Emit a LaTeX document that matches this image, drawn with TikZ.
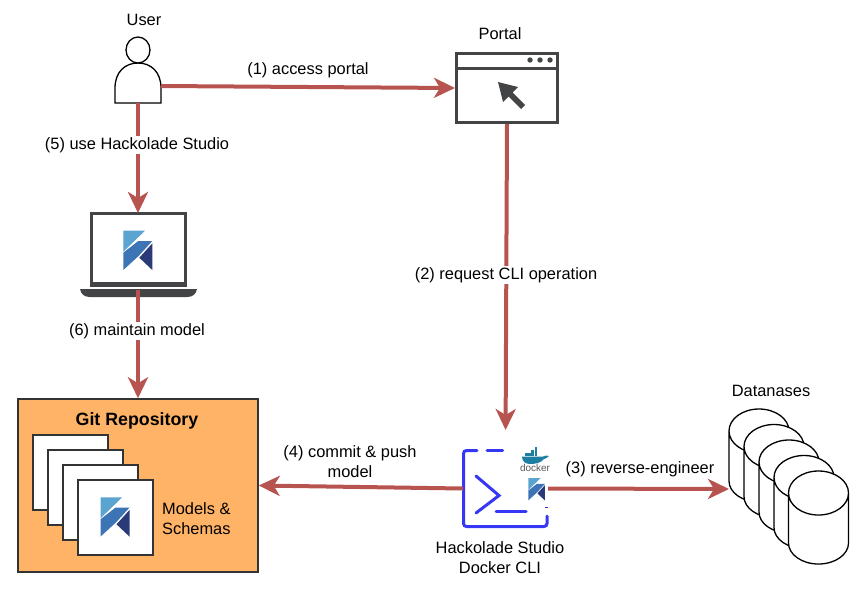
\documentclass[tikz,border=0pt]{standalone}
\usepackage{fontspec}
\setmainfont{Liberation Sans}
\usetikzlibrary{positioning,arrows.meta,calc}
\definecolor{edgered}{HTML}{B85450}
\definecolor{icondark}{HTML}{434445}
\definecolor{repofill}{HTML}{FFB366}
\definecolor{cliblue}{HTML}{3636F5}
\definecolor{logolight}{HTML}{5BA3D0}
\definecolor{logomid}{HTML}{3D74B5}
\definecolor{logodark}{HTML}{2A3A78}
\definecolor{whale}{HTML}{1E7FA3}
\begin{document}
\begin{tikzpicture}[
  x=1pt, y=-1pt,
  lbl/.style={font=\fontsize{16.4}{20.5}\selectfont, align=center, inner sep=1pt, yshift=-1.5pt},
  edgelbl/.style={lbl, fill=white},
  hook/.style={minimum width=#1, inner sep=0pt, outer sep=0pt},
  arrow/.style={-{Stealth[length=21pt,width=20pt,inset=6pt]}, line width=4pt, edgered},
  page/.style={draw=black!80, line width=1.5pt, fill=white, minimum width=75pt, minimum height=75pt, inner sep=0pt},
  pics/klogo/.style={code={
    \fill[logolight] (0,0) -- (21.7,0) -- (0,21) -- cycle;
    \fill[logomid] (15,10.3) -- (29,10.3) -- (15.3,25.3) -- (0,39.3) -- (0,22) -- cycle;
    \fill[logodark] (29,12.7) -- (29,39.3) -- (16,27) -- cycle;
  }},
]
\useasboundingbox (0,0) rectangle (858,595);
% --- user ---
\node[lbl] (tuser) at (144,18.5) {User};
\node[hook=46pt, minimum height=34pt] (user) at (138,86) {};
\draw[line width=1.3pt, fill=white] (115,103) -- (115,88) .. controls (115,72) and (125,63) .. (138,63)
  .. controls (151,63) and (161,72) .. (161,88) -- (161,103) -- cycle;
\draw[line width=1.3pt, fill=white] (138,50) ellipse (12 and 13);
% --- portal ---
\node[draw=icondark, line width=3pt, minimum width=101pt, minimum height=69pt, inner sep=0pt] (portal) at (507,88) {};
\node[lbl] (tportal) at (500,32.5) {Portal};
\draw[icondark, line width=3pt] (portal.north west |- 0,68) -- (portal.north east |- 0,68);
\foreach \dotx in {530,540,550} \fill[icondark] (\dotx,60) circle (2.7);
\fill[icondark] (498,82) -- (518,87) -- (512.5,92.5) -- (525,105) -- (521,109) -- (508.5,96.5) -- (503,102) -- cycle;
% --- laptop ---
\node[draw=icondark, line width=3pt, minimum width=94pt, minimum height=72pt, inner sep=0pt] (screen) at (138,249.5) {};
\fill[icondark] (90,282) rectangle (186,287);
\fill[icondark] (80,289) -- (197,289) .. controls (196,294) and (193,297) .. (187,297)
  -- (90,297) .. controls (84,297) and (81,294) .. (80,289) -- cycle;
\node[hook=96pt, minimum height=77pt] (laptop) at (138,251.5) {};
\pic at (123.3,230.7) {klogo};
% --- git repository ---
\node[draw=black!80, line width=1.5pt, fill=repofill, minimum width=240pt, minimum height=173pt, inner sep=0pt] (repo) at (138,485.5) {};
\node[lbl, font=\fontsize{17.8}{20}\selectfont\bfseries] (trepo) at (137,419.5) {Git Repository};
\node[page] (p1) at (70.5,472.5) {};
\node[page] (p2) at (85.5,487.5) {};
\node[page] (p3) at (100.5,502.5) {};
\node[page] (p4) at (115.5,517.5) {};
\pic at (100.5,497.3) {klogo};
\node[lbl, align=left, anchor=west] (tmodels) at (161,517) {Models \&\\Schemas};
% --- docker cli ---
\node[hook=85pt, minimum height=77pt] (cli) at (505.5,488.5) {};
\draw[cliblue, line width=3pt, rounded corners=3pt, line cap=round] (477,450.5) -- (463.5,450.5) -- (463.5,526.5) -- (547,526.5) -- (547,516);
\draw[cliblue, line width=3pt, line cap=round] (487,450.5) -- (502.5,450.5);
\draw[cliblue, line width=3pt, line cap=round] (476,476) -- (499,495.5) -- (476,513);
\draw[cliblue, line width=3pt, line cap=round] (496,511) -- (526,511);
\draw[cliblue, line width=1pt] (545,507) -- (548,507);
\pic[scale=0.57] at (528.3,478) {klogo};
% whale of the docker mark
\fill[whale] (522,456.5) -- (543,456.5) .. controls (545,455.5) and (547,455) .. (549,456)
  .. controls (547,458) and (545,459) .. (544,459) .. controls (541,463) and (535,464) .. (530,464)
  .. controls (525,464) and (522,461) .. (522,456.5) -- cycle;
\foreach \boxx/\boxy in {525/453,528.2/453,531.4/453,534.6/453,531.4/450,534.6/450,534.6/447}
  \fill[whale] (\boxx,\boxy) rectangle ++(2.7,2.7);
\node[font=\fontsize{10}{10}\selectfont, text=black!65, inner sep=0pt] (tdocker) at (535,468) {docker};
\node[lbl] (tcli) at (500,556) {Hackolade Studio\\Docker CLI};
% --- databases ---
\node[lbl] (tdb) at (771,389.5) {Datanases};
\node[hook=60pt, minimum height=10pt] (dbs) at (759,489) {};
\foreach \dbx/\dby in {759/431,774/446.5,789/462,804/477.5,818.5/493}
  \draw[line width=1.3pt, fill=white] (\dbx-30,\dby) arc (180:360:30 and 22) -- (\dbx+30,\dby+50)
    arc (0:180:30 and 21) -- cycle (\dbx+30,\dby) arc (0:180:30 and 22);
% --- connectors ---
\draw[arrow] (user.east) -- (portal.west);
\draw[arrow, shorten >=20pt] (portal.south) -- (cli.north);
\draw[arrow] (cli.east) -- (dbs.west);
\draw[arrow] (cli.west) -- (repo.east);
\draw[arrow] (user.south) -- (laptop.north);
\draw[arrow] (laptop.south) -- (repo.north);
% --- edge labels ---
\node[lbl] (l1) at (308,68.5) {(1) access portal};
\node[edgelbl] (l2) at (506,273.5) {(2) request CLI operation};
\node[lbl] (l3) at (640,467.5) {(3) reverse-engineer};
\node[lbl] (l4) at (350,460) {(4) commit \& push\\model};
\node[edgelbl] (l5) at (137,143.5) {(5) use Hackolade Studio};
\node[edgelbl] (l6) at (137,329.5) {(6) maintain model};
\end{tikzpicture}
\end{document}
